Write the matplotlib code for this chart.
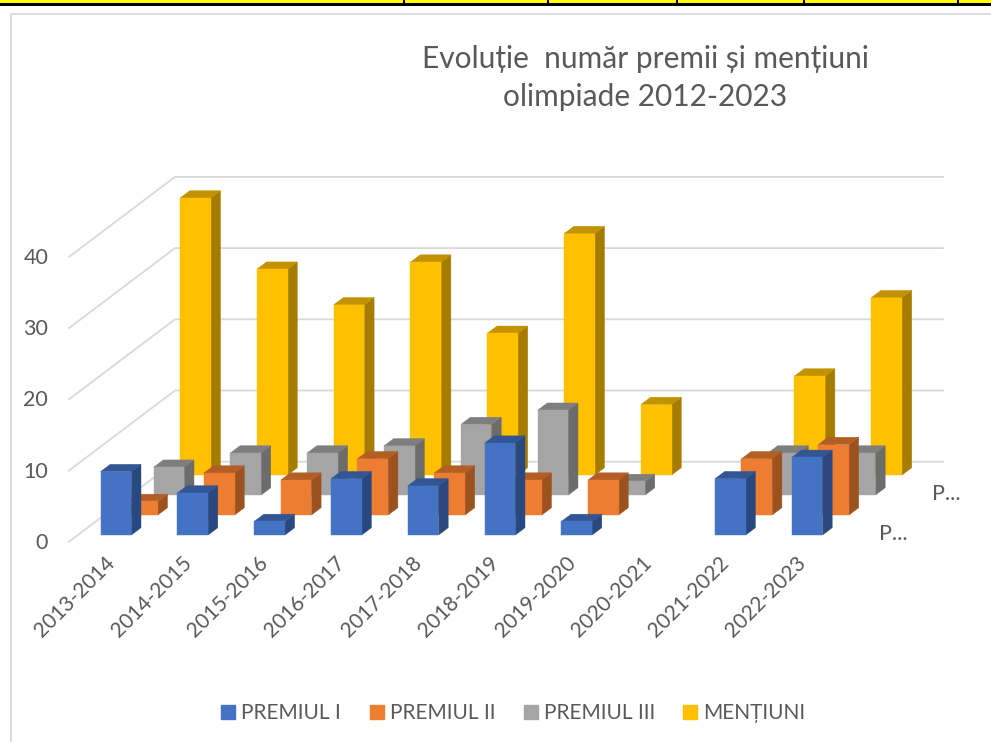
import matplotlib
matplotlib.use("Agg")
import matplotlib.pyplot as plt
from matplotlib.patches import Polygon, Rectangle, Patch
from matplotlib.transforms import ScaledTranslation

plt.rcParams['font.family'] = ['Lato', 'DejaVu Sans']

W, H = 991, 742
categories = ["2013-2014", "2014-2015", "2015-2016", "2016-2017", "2017-2018",
              "2018-2019", "2019-2020", "2020-2021", "2021-2022", "2022-2023"]
premiul_1 = [9, 6, 2, 8, 7, 13, 2, 0, 8, 11]
premiul_2 = [2, 6, 5, 8, 6, 5, 5, 0, 8, 10]
premiul_3 = [4, 6, 6, 7, 10, 12, 2, 0, 6, 6]
mentiuni = [39, 29, 24, 30, 20, 34, 10, 0, 14, 25]
series_names = ["PREMIUL I", "PREMIUL II", "PREMIUL III", "MENȚIUNI"]
y_ticks = [0, 10, 20, 30, 40]
title_text = "Evoluție  număr premii și mențiuni\nolimpiade 2012-2023"

series_values = [premiul_1, premiul_2, premiul_3, mentiuni]
face = ["#4472C4", "#ED7D31", "#A5A5A5", "#FFC000"]
side = ["#2A4880", "#9C521F", "#6C6C6C", "#A67C00"]
top = ["#335593", "#B35E25", "#7E7E7E", "#C29200"]

fig = plt.figure(figsize=(W / 100, H / 100), dpi=100, facecolor="white")

PX_X, PX_Y = 76.8, 7.12
x0, y0 = 69, 541.7
ax = fig.add_axes([x0 / W, (H - y0) / H, 768 / W, 284.8 / H])
ax.set_xlim(0, 10)
ax.set_ylim(0, 40)
ax.patch.set_visible(False)
for s in ax.spines.values():
    s.set_visible(False)

DEPTH_X, DEPTH_Y = 106 / PX_X, 80 / PX_Y
grid = "#D9D9D9"
for v in y_ticks:
    ax.plot([0, DEPTH_X, 10 + DEPTH_X], [v, v + DEPTH_Y, v + DEPTH_Y],
            color=grid, lw=1.3, clip_on=False, zorder=1, solid_joinstyle="miter")

BAR_W = 0.4
BAR_D = 0.0915
z = 2
for s in range(3, -1, -1):
    d = 1 / 12 + s * 0.25
    for i, val in enumerate(series_values[s]):
        if val <= 0:
            continue
        xl = i + 0.5 - BAR_W / 2 + d * DEPTH_X - 0.3 / PX_X
        xr = xl + BAR_W
        yb = d * DEPTH_Y
        yt = yb + val - 0.7 / PX_Y
        dx, dy = BAR_D * DEPTH_X, BAR_D * DEPTH_Y
        polys = [
            ([(xr, yb), (xr + dx, yb + dy), (xr + dx, yt + dy), (xr, yt)], side[s]),
            ([(xl, yt), (xr, yt), (xr + dx, yt + dy), (xl + dx, yt + dy)], top[s]),
            ([(xl, yb), (xr, yb), (xr, yt), (xl, yt)], face[s]),
        ]
        for pts, col in polys:
            ax.add_patch(Polygon(pts, closed=True, facecolor=col, edgecolor=col,
                                 lw=0.3, clip_on=False, zorder=z))
        z += 1

txt = "#595959"
ax.set_xticks([i + 0.5 for i in range(len(categories))])
ax.set_xticklabels(categories, rotation=45, ha="right", rotation_mode="anchor",
                   fontsize=15, color=txt)
ax.set_yticks(y_ticks)
ax.set_yticklabels([str(v) for v in y_ticks], fontsize=15.5, color=txt)
ax.tick_params(axis="x", length=0, pad=8)
ax.tick_params(axis="y", length=0, pad=15)
shift_x = ScaledTranslation(-3 / 100, 0, fig.dpi_scale_trans)
shift_y = ScaledTranslation(0, 1 / 100, fig.dpi_scale_trans)
for lab in ax.get_xticklabels():
    lab.set_transform(lab.get_transform() + shift_x)
for lab in ax.get_yticklabels():
    lab.set_transform(lab.get_transform() + shift_y)

fig.text(932 / W, 1 - 494 / H, "P...", fontsize=15.5, color=txt, va="center", ha="left")
fig.text(879 / W, 1 - 534 / H, "P...", fontsize=15.5, color=txt, va="center", ha="left")

fig.text(645 / W, 1 - 78 / H, title_text, fontsize=21.5, color=txt, ha="center",
         va="center", linespacing=1.45)

handles = [Patch(facecolor=c, edgecolor=c) for c in face]
fig.legend(handles, series_names, ncol=4, loc="center", bbox_to_anchor=(513.5 / W, 1 - 713 / H),
           frameon=False, fontsize=15, labelcolor=txt, handlelength=0.67, handleheight=0.67,
           handletextpad=0.3, columnspacing=1.36, borderpad=0)

frame = "#DDDDDD"
fig.add_artist(Rectangle((10 / W, 0), 2 / W, 1 - 13 / H, transform=fig.transFigure,
                         facecolor=frame, edgecolor="none"))
fig.add_artist(Rectangle((10 / W, 1 - 15 / H), 1, 2 / H, transform=fig.transFigure,
                         facecolor=frame, edgecolor="none"))
fig.add_artist(Rectangle((0, 1 - 3 / H), 1, 3 / H, transform=fig.transFigure,
                         facecolor="#FFFF00", edgecolor="none"))
fig.add_artist(Rectangle((0, 1 - 6 / H), 1, 3 / H, transform=fig.transFigure,
                         facecolor="black", edgecolor="none"))
for xp in [404, 548, 677, 804, 958]:
    fig.add_artist(Rectangle(((xp - 1) / W, 1 - 3 / H), 2 / W, 3 / H, transform=fig.transFigure,
                             facecolor="black", edgecolor="none"))

fig.savefig("out.png", dpi=100, facecolor="white")
